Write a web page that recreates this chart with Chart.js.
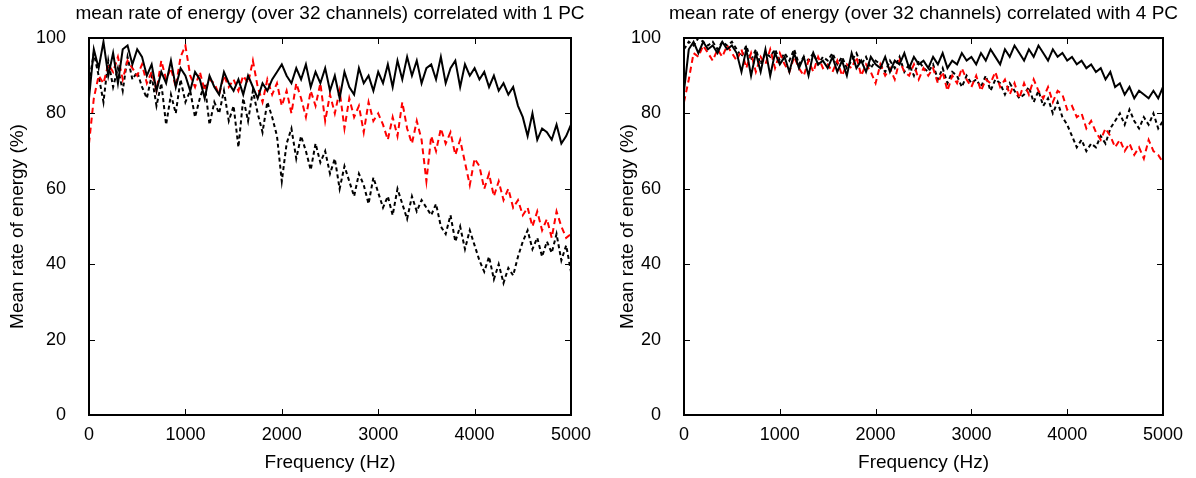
<!DOCTYPE html>
<html lang="en">
<head>
  <meta charset="UTF-8" />
  <title>Mean rate of energy</title>
  <script src="https://cdn.jsdelivr.net/npm/chart.js"></script>
  <style>
    body { margin: 0; background: #fff; }
    .row { display: flex; width: 1196px; height: 478px; }
    canvas { display: block; }
  </style>
</head>
<body>
  <div class="row">
    <canvas id="pc1" width="598" height="478"></canvas>
    <canvas id="pc4" width="598" height="478"></canvas>
  </div>

  <script>
    // frequency grid, 50 Hz steps from 0 to 5000
    const freqs = Array.from({ length: 101 }, (_, i) => i * 50);
    const xTicks = [0, 1000, 2000, 3000, 4000, 5000];
    const yTicks = [0, 20, 40, 60, 80, 100];

    // 1 PC panel
    const pc1Solid = [
      84, 97, 92, 99, 90, 96, 88, 97, 98, 93, 97,
      95, 90, 93, 86, 91, 88, 94, 87, 92, 90,
      86, 91, 89, 84, 90, 87, 85, 91, 88, 86,
      89, 85, 90, 87, 84, 88, 86, 89, 91, 93,
      90, 88, 92, 89, 93, 87, 91, 88, 92, 86,
      90, 84, 91, 87, 85, 92, 88, 90, 86, 91,
      88, 93, 87, 94, 89, 95, 90, 94, 88, 92,
      93, 89, 95, 88, 92, 94, 87, 93, 90, 92,
      89, 91, 87, 90, 86, 88, 85, 87, 82, 79,
      74, 80, 73, 76, 75, 73, 77, 72, 74, 77
    ];
    const pc1Red = [
      72, 84, 90, 88, 93, 91, 95, 89, 94, 92, 90,
      93, 88, 91, 86, 94, 89, 92, 87, 95, 98,
      90, 87, 91, 86, 89, 88, 85, 90, 87, 89,
      86, 90, 88, 94, 87, 83, 89, 85, 88, 82,
      86, 80, 88, 84, 79, 86, 82, 88, 78, 85,
      80, 86, 76, 84, 79, 82, 75, 83, 78, 80,
      77, 73, 79, 74, 83, 76, 72, 78, 73, 62,
      74, 70, 76, 72, 75, 69, 73, 67, 61, 68,
      66, 60, 64, 58, 62, 57, 60, 55, 57, 53,
      55, 50, 54, 49, 52, 47, 54, 50, 47, 48
    ];
    const pc1Dash = [
      88, 96, 90, 83, 94, 87, 92, 86, 95, 89, 91,
      87, 84, 90, 82, 88, 77, 85, 80, 89, 83,
      86, 79, 84, 88, 77, 83, 80, 86, 78, 82,
      71, 84, 78, 86, 80, 75, 83, 79, 74, 62,
      72, 76, 68, 74, 70, 65, 72, 67, 70, 64,
      68, 60, 66, 62, 58, 64, 61, 56, 63, 59,
      55, 58, 53, 60, 56, 52, 58, 54, 57, 55,
      53, 56, 50, 48, 53, 46, 50, 44, 49, 45,
      41, 38, 42, 36, 40, 35, 39, 37, 42, 46,
      49, 44, 47, 42, 46, 43, 48, 41, 45, 38
    ];

    // 4 PC panel
    const pc4Solid = [
      86, 97, 99, 96, 99, 97, 98, 96, 99, 97, 98,
      96, 91, 97, 90, 96, 91, 97, 90, 96, 93,
      95, 91, 96, 92, 95, 90, 96, 93, 94, 92,
      95, 91, 94, 90, 96, 92, 94, 91, 95, 93,
      92, 95, 91, 94, 93, 96, 92, 95, 93, 94,
      92, 95, 93, 96, 92, 94, 93, 96, 94, 95,
      93, 96, 94, 97, 95, 93, 97, 95, 98, 96,
      94, 97, 95, 98, 96, 94, 97, 95, 96, 94,
      95, 93, 94, 92, 93, 91, 92, 89, 91, 87,
      88, 85, 87, 84, 86, 85, 84, 86, 84, 87
    ];
    const pc4Red = [
      83, 89, 96, 95, 98, 96, 94, 97, 95, 98, 96,
      94, 97, 92, 96, 91, 95, 93, 97, 92, 96,
      93, 91, 95, 92, 90, 94, 91, 95, 92, 93,
      91, 94, 90, 93, 92, 95, 90, 93, 91, 88,
      93, 90, 92, 89, 94, 91, 90, 93, 89, 92,
      90, 92, 88, 91, 86, 90, 88, 92, 89, 87,
      90, 86, 89, 88, 91, 87, 89, 85, 88, 84,
      88, 85, 89, 86, 84, 87, 83, 86, 85, 81,
      82, 79, 80, 76, 78, 75, 73, 76, 74, 71,
      73, 70, 72, 69, 71, 68, 73, 70, 69, 67
    ];
    const pc4Dash = [
      97, 99, 98, 100, 99, 98, 99, 97, 99, 98, 99,
      97, 95, 98, 94, 97, 93, 96, 95, 97, 94,
      96, 94, 97, 93, 95, 94, 96, 93, 95, 94,
      96, 93, 95, 92, 94, 96, 93, 95, 92, 94,
      93, 91, 94, 92, 95, 91, 93, 90, 94, 92,
      91, 93, 89, 92, 88, 91, 90, 87, 90, 88,
      89, 87, 90, 86, 89, 88, 85, 88, 86, 84,
      85, 87, 83, 86, 82, 84, 80, 83, 79, 77,
      74, 71, 73, 70, 72, 71, 74, 72, 76, 78,
      80, 77, 81, 78, 76, 79, 77, 80, 76, 78
    ];

    const FONT = '"Liberation Sans", Arial, sans-serif';

    // box around the plot, inward ticks on all four sides, and the title
    const framePlugin = {
      id: 'frame',
      afterDatasetsDraw(chart, args, opts) {
        const { ctx, chartArea: a, scales: { x, y } } = chart;
        ctx.save();
        ctx.strokeStyle = '#000';
        ctx.lineWidth = 2;
        ctx.strokeRect(a.left, a.top, a.right - a.left, a.bottom - a.top);
        ctx.beginPath();
        xTicks.forEach(v => {
          const px = Math.round(x.getPixelForValue(v)) + 0.5;
          ctx.moveTo(px, a.bottom); ctx.lineTo(px, a.bottom - 6);
          ctx.moveTo(px, a.top); ctx.lineTo(px, a.top + 6);
        });
        yTicks.forEach(v => {
          const py = Math.round(y.getPixelForValue(v)) + 0.5;
          ctx.moveTo(a.left, py); ctx.lineTo(a.left + 6, py);
          ctx.moveTo(a.right, py); ctx.lineTo(a.right - 6, py);
        });
        ctx.lineWidth = 1;
        ctx.stroke();
        ctx.fillStyle = '#000';
        ctx.font = '19px ' + FONT;
        ctx.textAlign = 'center';
        ctx.textBaseline = 'middle';
        ctx.fillText(opts.text, (a.left + a.right) / 2, 14);
        ctx.restore();
      }
    };

    function makeChart(id, title, solid, red, dash, yWidth, padRight, yTitlePad) {
      const pts = arr => arr.map((v, i) => ({ x: freqs[i], y: v }));
      return new Chart(document.getElementById(id), {
        type: 'line',
        data: {
          datasets: [
            { data: pts(solid), borderColor: '#000', borderWidth: 2, order: 0 },
            { data: pts(red), borderColor: '#ff0000', borderWidth: 2, borderDash: [6, 4], order: 1 },
            { data: pts(dash), borderColor: '#000', borderWidth: 2, borderDash: [4, 3], order: 2 }
          ]
        },
        options: {
          responsive: false,
          animation: false,
          layout: { padding: { top: 38, right: padRight, left: 0, bottom: 0 } },
          elements: { point: { radius: 0 }, line: { tension: 0 } },
          plugins: {
            legend: { display: false },
            tooltip: { enabled: false },
            frame: { text: title }
          },
          scales: {
            x: {
              type: 'linear',
              min: 0,
              max: 5000,
              afterFit: s => { s.height = 63; },
              afterBuildTicks: s => { s.ticks = xTicks.map(v => ({ value: v })); },
              grid: { display: false },
              border: { display: false },
              ticks: { color: '#000', font: { family: FONT, size: 18 }, padding: 1, maxRotation: 0, callback: v => String(v) },
              title: { display: true, text: 'Frequency (Hz)', color: '#000', font: { family: FONT, size: 19 }, padding: { top: 0, bottom: 4 } }
            },
            y: {
              min: 0,
              max: 100,
              afterFit: s => { s.width = yWidth; },
              afterBuildTicks: s => { s.ticks = yTicks.map(v => ({ value: v })); },
              grid: { display: false },
              border: { display: false },
              ticks: { color: '#000', font: { family: FONT, size: 18 }, padding: 15, callback: v => String(v) },
              title: { display: true, text: 'Mean rate of energy (%)', color: '#000', font: { family: FONT, size: 19 }, padding: { top: yTitlePad, bottom: 0 } }
            }
          }
        },
        plugins: [framePlugin]
      });
    }

    makeChart('pc1', 'mean rate of energy (over 32 channels) correlated with 1 PC', pc1Solid, pc1Red, pc1Dash, 89, 27, 6);
    makeChart('pc4', 'mean rate of energy (over 32 channels) correlated with 4 PC', pc4Solid, pc4Red, pc4Dash, 86, 33, 18);
  </script>
</body>
</html>
